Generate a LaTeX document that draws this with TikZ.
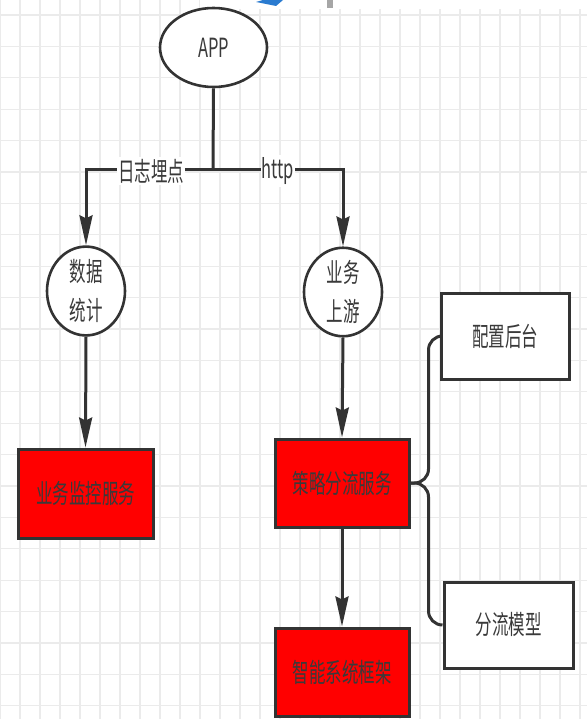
\documentclass[tikz,border=0pt]{standalone}
\usepackage{fontspec}
\setmainfont{Noto Sans CJK SC}
\usetikzlibrary{arrows.meta,shapes.geometric,calc}
\definecolor{ink}{HTML}{333333}
\definecolor{txt}{HTML}{3A3A3A}
\definecolor{gridc}{HTML}{EBEBEB}
\definecolor{redf}{HTML}{FF0000}
\definecolor{fragblue}{HTML}{2A7BD0}
\newcommand{\stx}[1]{\scalebox{1}[1.6]{#1}}
\tikzset{
  lbl/.style={font=\fontsize{16.5}{16.5}\selectfont, text=txt, inner sep=0pt},
  oval/.style={ellipse, draw=ink, line width=2.6pt, fill=white, inner sep=0pt, lbl},
  redbox/.style={rectangle, draw=ink, line width=3pt, fill=redf, inner sep=0pt, lbl},
  whitebox/.style={rectangle, draw=ink, line width=3pt, fill=white, inner sep=0pt, lbl},
  conn/.style={draw=ink, line width=3pt},
  arr/.style={conn, -{Stealth[length=30pt, width=13pt, inset=3pt]}},
  edgelbl/.style={lbl, fill=white, inner xsep=1pt, inner ysep=2pt}
}
\begin{document}
\begin{tikzpicture}[x=1pt,y=-1pt]
\useasboundingbox (0,0) rectangle (587,719);
\fill[white] (0,0) rectangle (587,719);
% grid
\foreach \gx in {0,20,...,580} {\draw[gridc, line width=1.2pt] (\gx,0) -- (\gx,719);}
\foreach \k in {0,...,22} {\draw[gridc, line width=1.2pt] (0,15+31.4*\k) -- (587,15+31.4*\k);}
% top fragments
\fill[white] (200,0) rectangle (587,9);
\fill[fragblue] (263,0) -- (283,0) -- (276,6) -- (256,2) -- cycle;
\fill[gray!70] (327,0) rectangle (333,8);
% nodes
\node[oval, minimum width=107pt, minimum height=79pt] (app) at (213.5,47.5) {\stx{APP}};
\node[oval, minimum width=78pt, minimum height=78pt, align=center] (stat) at (86,291)
  {\stx{数据}\\[13pt]\stx{统计}};
\node[oval, minimum width=78pt, minimum height=78pt, align=center] (up) at (343,292)
  {\stx{业务}\\[13pt]\stx{上游}};
\node[redbox, minimum width=135pt, minimum height=89pt] (mon) at (85.5,493.5) {\stx{业务监控服务}};
\node[redbox, minimum width=134pt, minimum height=88pt] (svc) at (342,483) {\stx{策略分流服务}};
\node[redbox, minimum width=134pt, minimum height=88pt] (ai) at (342,672) {\stx{智能系统框架}};
\node[whitebox, minimum width=128pt, minimum height=86pt] (cfg) at (505,336) {\stx{配置后台}};
\node[whitebox, minimum width=129pt, minimum height=86pt] (mdl) at (508.5,625) {\stx{分流模型}};
\coordinate (j) at (213,170);
% connectors
\draw[conn] (app.south) -- (j);
\draw[arr] (j) -| (stat.north);
\draw[arr] (j) -| (up.north);
\node[edgelbl] (l1) at (151,171) {\stx{日志埋点}};
\node[edgelbl] (l2) at (278,171) {\stx{http}};
\draw[arr] (stat.south) -- (mon.north);
\draw[arr] (up.south) -- (svc.north);
\draw[arr] (svc.south) -- (ai.north);
\draw[conn, rounded corners=14pt] (svc.east) -- ++(18,0) |- (cfg.west);
\draw[conn, rounded corners=14pt] (svc.east) -- ++(18,0) |- (mdl.west);
\end{tikzpicture}
\end{document}
